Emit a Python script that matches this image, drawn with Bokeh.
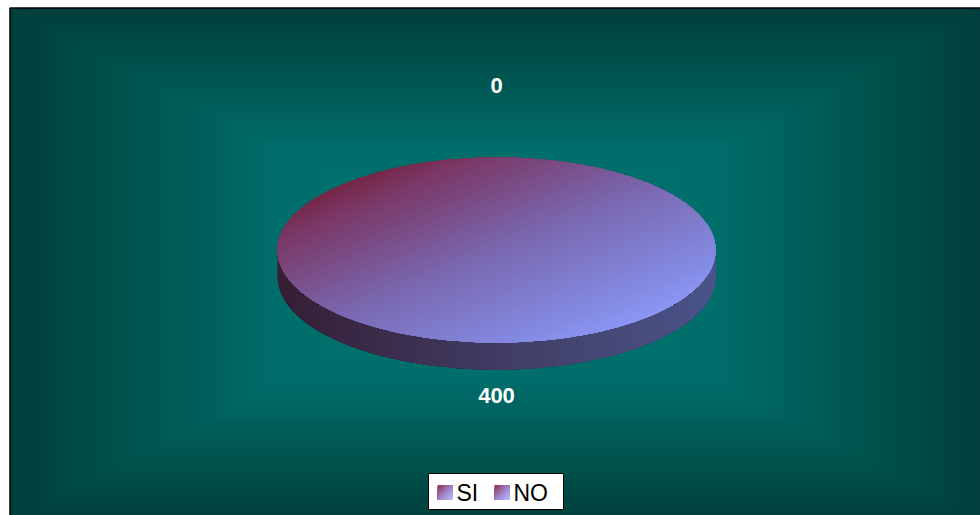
import numpy as np
from bokeh.plotting import figure
from bokeh.models import Range1d
from bokeh.embed import file_html
from bokeh.resources import INLINE
from bokeh.core.properties import value

# ---- data ----
categories = ["SI", "NO"]
values = [0, 400]
label_texts = [str(v) for v in values]

# ---- style (gradient stops) ----
bg_stops = [(0.0, (0, 62, 60)), (0.2, (0, 80, 74)), (0.4, (0, 96, 92)),
            (0.55, (0, 110, 107)), (1.0, (0, 118, 115))]
top_stops = [(0.0, (118, 38, 70)), (0.1, (122, 55, 100)), (0.5, (122, 104, 176)),
             (0.9, (132, 140, 228)), (1.0, (140, 150, 244))]
side_stops = [(0.0, (54, 30, 52)), (0.5, (64, 60, 100)), (1.0, (74, 84, 136))]
swatch_stops = [(0.0, (140, 50, 80)), (0.5, (160, 130, 200)), (1.0, (186, 186, 255))]


def grad(stops, t):
    t = min(max(t, 0.0), 1.0)
    for i in range(len(stops) - 1):
        t0, c0 = stops[i]
        t1, c1 = stops[i + 1]
        if t <= t1:
            u = (t - t0) / (t1 - t0) if t1 > t0 else 0
            r = [int(round(c0[j] + (c1[j] - c0[j]) * u)) for j in range(3)]
            return "#%02x%02x%02x" % tuple(r)
    return "#%02x%02x%02x" % stops[-1][1]


def clip_half(poly, nx, ny, c):
    """keep points with nx*x+ny*y >= c (Sutherland-Hodgman)"""
    out = []
    n = len(poly)
    for i in range(n):
        p1 = poly[i]
        p2 = poly[(i + 1) % n]
        f1 = nx * p1[0] + ny * p1[1] - c
        f2 = nx * p2[0] + ny * p2[1] - c
        if f1 >= 0:
            out.append(p1)
        if (f1 >= 0) != (f2 >= 0):
            t = f1 / (f1 - f2)
            out.append((p1[0] + (p2[0] - p1[0]) * t, p1[1] + (p2[1] - p1[1]) * t))
    return out


W, H = 980, 515
p = figure(width=W, height=H, x_range=Range1d(0, W), y_range=Range1d(H, 0),
           output_backend="svg", toolbar_location=None, min_border=0)
p.axis.visible = False
p.grid.visible = False
p.outline_line_color = None
p.background_fill_color = "white"
p.border_fill_color = "white"

# ---- chart area background: rectangular gradient from center ----
L, T, R, B = 9.5, 7.5, 985.0, 522.0
gcx, gcy = (L + R) / 2, (T + B) / 2
N = 100
ls, rs, ts, bs, cs = [], [], [], [], []
for k in range(N):
    t = k / N
    ls.append(gcx - (gcx - L) * (1 - t))
    rs.append(gcx + (R - gcx) * (1 - t))
    ts.append(gcy - (gcy - T) * (1 - t))
    bs.append(gcy + (B - gcy) * (1 - t))
    cs.append(grad(bg_stops, t))
p.quad(left=ls, right=rs, top=ts, bottom=bs, fill_color=cs, line_color=None)
p.quad(left=[L], right=[R], top=[T], bottom=[B], fill_color=None,
       line_color="black", line_width=1.5)

# ---- 3D pie ----
cx, cy, a, b, depth = 496.0, 249.5, 219.0, 92.5, 27.0
total = float(sum(values))


def ept(th, dy=0.0):
    return (cx + a * np.sin(th), cy - b * np.cos(th) + dy)


angles = []
acc = 0.0
for v in values:
    t0 = acc / total * 2 * np.pi
    acc += v
    t1 = acc / total * 2 * np.pi
    angles.append((t0, t1))

# sides
for (t0, t1) in angles:
    if t1 - t0 <= 1e-9:
        continue
    lo, hi = max(t0, np.pi / 2), min(t1, 3 * np.pi / 2)
    if hi <= lo:
        continue
    ths = np.linspace(lo, hi, 160)
    poly = [ept(th) for th in ths] + [ept(th, depth) for th in ths[::-1]]
    xmin, xmax = min(q[0] for q in poly), max(q[0] for q in poly)
    xs_l, ys_l, col_l = [], [], []
    M = 60
    for k in range(M):
        c = xmin + (xmax - xmin) * k / M
        cp = clip_half(poly, 1.0, 0.0, c)
        if len(cp) >= 3:
            xs_l.append([q[0] for q in cp])
            ys_l.append([q[1] for q in cp])
            col_l.append(grad(side_stops, k / (M - 1)))
    p.patches(xs_l, ys_l, fill_color=col_l, line_color=None)

# tops
for (t0, t1) in angles:
    if t1 - t0 <= 1e-9:
        continue
    if t1 - t0 >= 2 * np.pi - 1e-9:
        ths = np.linspace(0, 2 * np.pi, 360, endpoint=False)
        poly = [ept(th) for th in ths]
    else:
        ths = np.linspace(t0, t1, 200)
        poly = [(cx, cy)] + [ept(th) for th in ths]
    nx, ny = 1.0 / a, 1.0 / b
    base = nx * cx + ny * cy
    ext = 1.42  # range of x/a + y/b over the ellipse is +-sqrt(2)
    smin, smax = base - ext, base + ext
    xs_l, ys_l, col_l = [], [], []
    M = 100
    for k in range(M):
        c = smin + (smax - smin) * k / M
        cp = clip_half(poly, nx, ny, c)
        if len(cp) >= 3:
            xs_l.append([q[0] for q in cp])
            ys_l.append([q[1] for q in cp])
            col_l.append(grad(top_stops, k / (M - 1)))
    p.patches(xs_l, ys_l, fill_color=col_l, line_color=None)

# data labels
lx, ly = [], []
for (t0, t1) in angles:
    mid = (t0 + t1) / 2
    up = np.cos(mid) >= 0
    gap = 72.0 if up else 26.0
    lx.append(cx + (a + gap) * np.sin(mid))
    ly.append(cy - (b + gap) * np.cos(mid) + (0 if up else depth))
p.text(x=lx, y=ly, text=label_texts, text_font=value("Liberation Sans"),
       text_font_style="bold", text_font_size="22px", text_color="white",
       text_align="center", text_baseline="middle")

# ---- legend ----
lg_l, lg_r, lg_t, lg_b = 428.0, 563.0, 473.0, 509.0
p.quad(left=[lg_l], right=[lg_r], top=[lg_t], bottom=[lg_b], fill_color="white",
       line_color="black", line_width=1)
sw = 15.0
item_step = 57.0
ymid = (lg_t + lg_b) / 2 + 1
for i, cat in enumerate(categories):
    sx = lg_l + 9 + i * item_step
    sy = ymid - sw / 2
    sq = [(sx, sy), (sx + sw, sy), (sx + sw, sy + sw), (sx, sy + sw)]
    xs_l, ys_l, col_l = [], [], []
    M = 14
    for k in range(M):
        c = (sx + sy) + 2 * sw * k / M
        cp = clip_half(sq, 1.0, 1.0, c)
        if len(cp) >= 3:
            xs_l.append([q[0] for q in cp])
            ys_l.append([q[1] for q in cp])
            col_l.append(grad(swatch_stops, k / (M - 1)))
    p.patches(xs_l, ys_l, fill_color=col_l, line_color=None)
    p.text(x=[sx + sw + 4], y=[ymid], text=[cat], text_font=value("Liberation Sans"),
           text_font_size="23px", text_color="black", text_align="left",
           text_baseline="middle")

open("out.html", "w").write(file_html(p, INLINE))
